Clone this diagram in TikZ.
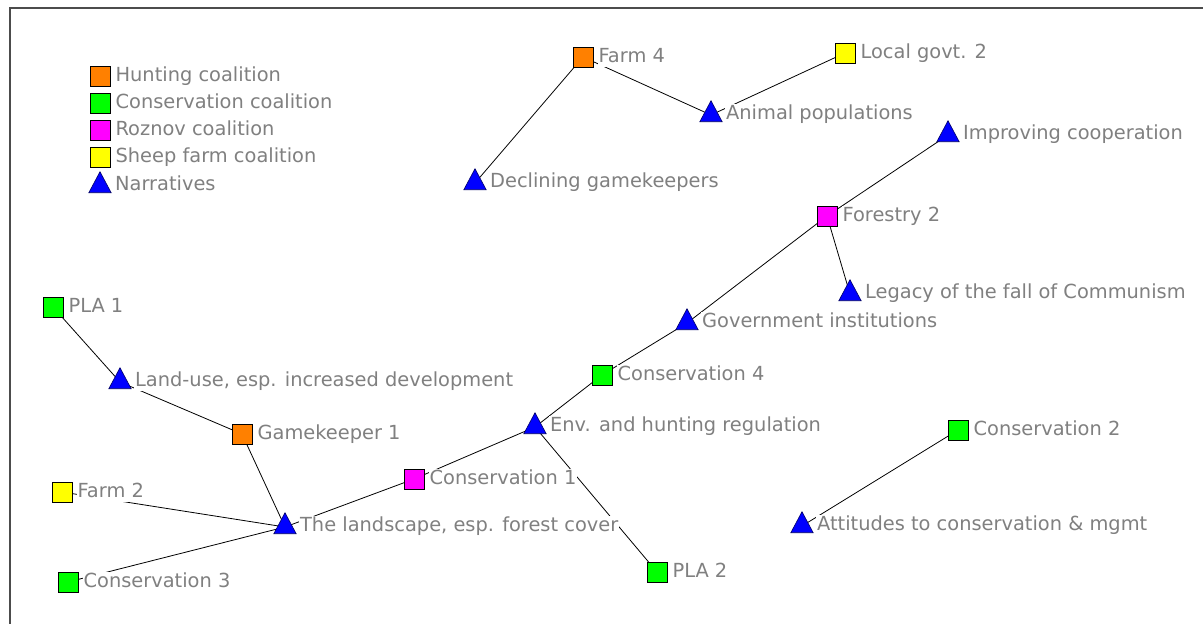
\documentclass[tikz,border=0pt]{standalone}
\usepackage{fontspec}
\setmainfont{DejaVu Sans}
\usetikzlibrary{shapes.geometric,backgrounds}
\definecolor{hunt}{RGB}{255,128,0}
\definecolor{cons}{RGB}{0,255,0}
\definecolor{roz}{RGB}{255,0,255}
\definecolor{sheep}{RGB}{255,255,0}
\definecolor{narr}{RGB}{0,0,255}
\definecolor{lbltext}{RGB}{128,128,128}
\begin{document}
\begin{tikzpicture}[x=1pt, y=-1pt,
  lbl/.style={text=lbltext, fill=white, inner sep=1pt, text height=14pt, text depth=4pt,
    font=\fontsize{19.4}{19.4}\selectfont},
  sqlbl/.style={lbl, xshift=4pt},
  trilbl/.style={lbl, xshift=6pt, yshift=1pt},
  sq/.style={draw, line width=0.8pt, rectangle, minimum size=20pt, inner sep=0pt,
    label distance=3pt},
  tri/.style={draw=blue!40!black, fill=narr, line width=0.6pt, isosceles triangle,
    isosceles triangle apex angle=56, shape border rotate=90, minimum size=21pt,
    inner sep=0pt, label distance=3pt},
  link/.style={line width=0.8pt}]
  \useasboundingbox (0,0) rectangle (1203,624);
  \draw[gray!60!black, line width=1.2pt] (10,624) -- (10,8) -- (1203,8);

  % legend
  \node[sq, fill=hunt, label={[sqlbl]right:Hunting coalition}] (leghunt) at (100,76) {};
  \node[sq, fill=cons, label={[sqlbl]right:Conservation coalition}] (legcons) at (100,103) {};
  \node[sq, fill=roz, label={[sqlbl]right:Roznov coalition}] (legroz) at (100,130) {};
  \node[sq, fill=sheep, label={[sqlbl]right:Sheep farm coalition}] (legsheep) at (100,157) {};
  \node[tri, label={[trilbl]right:Narratives}] (legnarr) at (100,186) {};

  % actors
  \node[sq, fill=hunt, label={[sqlbl]right:Farm 4}] (farmfour) at (583,57) {};
  \node[sq, fill=sheep, label={[sqlbl]right:Local govt. 2}] (localgovt) at (845,53) {};
  \node[sq, fill=roz, label={[sqlbl]right:Forestry 2}] (forestry) at (827,216) {};
  \node[sq, fill=cons, label={[sqlbl]right:PLA 1}] (plaone) at (53,307) {};
  \node[sq, fill=cons, label={[sqlbl]right:Conservation 4}] (conservfour) at (602,375) {};
  \node[sq, fill=hunt, label={[sqlbl]right:Gamekeeper 1}] (gamekeeper) at (242,434) {};
  \node[sq, fill=cons, label={[sqlbl]right:Conservation 2}] (conservtwo) at (958,430) {};
  \node[sq, fill=roz, label={[sqlbl]right:Conservation 1}] (conservone) at (414,479) {};
  \node[sq, fill=sheep, label={[sqlbl]right:Farm 2}] (farmtwo) at (62,492) {};
  \node[sq, fill=cons, label={[sqlbl]right:Conservation 3}] (conservthree) at (68,582) {};
  \node[sq, fill=cons, label={[sqlbl]right:PLA 2}] (platwo) at (657,572) {};

  % narratives
  \node[tri, label={[trilbl]right:Animal populations}] (animalpop) at (711,115) {};
  \node[tri, label={[trilbl]right:Declining gamekeepers}] (declining) at (475,183) {};
  \node[tri, label={[trilbl]right:Improving cooperation}] (improving) at (948,135) {};
  \node[tri, label={[trilbl]right:Legacy of the fall of Communism}] (legacy) at (850,294) {};
  \node[tri, label={[trilbl]right:Government institutions}] (govinst) at (687,323) {};
  \node[tri, label={[trilbl]right:{Land-use, esp. increased development}}] (landuse) at (120,382) {};
  \node[tri, label={[trilbl]right:Env. and hunting regulation}] (envreg) at (535,427) {};
  \node[tri, label={[trilbl]right:{The landscape, esp. forest cover}}] (landscape) at (285,527) {};
  \node[tri, label={[trilbl]right:Attitudes to conservation \& mgmt}] (attitudes) at (802,526) {};

  \begin{scope}[on background layer]
    \draw[link] (farmfour.center) -- (animalpop.center);
    \draw[link] (farmfour.center) -- (declining.center);
    \draw[link] (localgovt.center) -- (animalpop.center);
    \draw[link] (forestry.center) -- (improving.center);
    \draw[link] (forestry.center) -- (legacy.center);
    \draw[link] (forestry.center) -- (govinst.center);
    \draw[link] (govinst.center) -- (conservfour.center);
    \draw[link] (conservfour.center) -- (envreg.center);
    \draw[link] (envreg.center) -- (conservone.center);
    \draw[link] (envreg.center) -- (platwo.center);
    \draw[link] (conservone.center) -- (landscape.center);
    \draw[link] (gamekeeper.center) -- (landscape.center);
    \draw[link] (gamekeeper.center) -- (landuse.center);
    \draw[link] (landuse.center) -- (plaone.center);
    \draw[link] (farmtwo.center) -- (landscape.center);
    \draw[link] (conservthree.center) -- (landscape.center);
    \draw[link] (conservtwo.center) -- (attitudes.center);
  \end{scope}
\end{tikzpicture}
\end{document}
